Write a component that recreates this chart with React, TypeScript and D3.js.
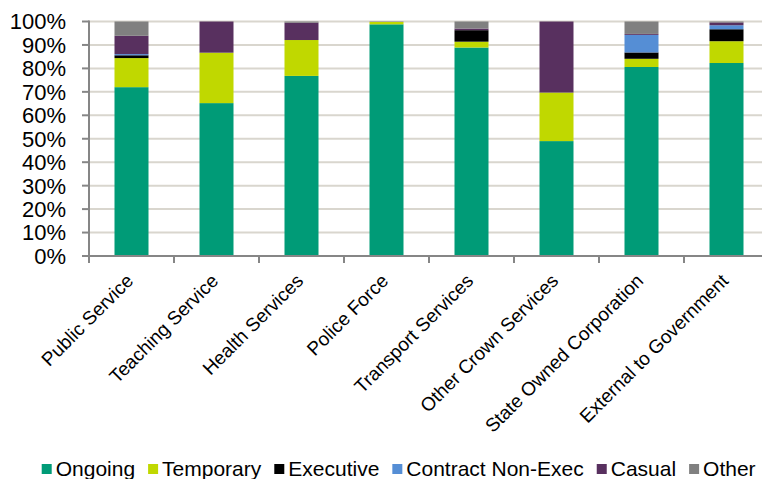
import React, { useMemo } from "react";
import * as d3 from "d3";

const categories = [
  "Public Service",
  "Teaching Service",
  "Health Services",
  "Police Force",
  "Transport Services",
  "Other Crown Services",
  "State Owned Corporation",
  "External to Government",
];
const seriesNames = ["Ongoing", "Temporary", "Executive", "Contract Non-Exec", "Casual", "Other"];
const ongoing = [72.0, 65.2, 76.8, 98.8, 88.9, 49.0, 80.6, 82.3];
const temporary = [12.4, 21.5, 15.3, 1.0, 2.5, 20.7, 3.5, 9.3];
const executive = [1.2, 0, 0, 0, 4.9, 0, 2.7, 5.1];
const contractNonExec = [0.5, 0, 0, 0, 0, 0, 7.5, 1.7];
const casual = [7.8, 13.3, 7.4, 0, 0.7, 30.3, 0.4, 1.2];
const other = [6.1, 0, 0.5, 0.2, 3.0, 0, 5.3, 0.4];
const yTicks = [0, 10, 20, 30, 40, 50, 60, 70, 80, 90, 100];
const colors = ["#009B77", "#C0D800", "#000000", "#558ED5", "#58305F", "#808080"];

const FONT = "Arial, 'Liberation Sans', sans-serif";
const W = 762;
const H = 479;

export default function App() {
  const seriesValues = [ongoing, temporary, executive, contractNonExec, casual, other];
  const table = categories.map((c, i) => {
    const row: any = { cat: c };
    seriesNames.forEach((s, k) => (row[s] = seriesValues[k][i]));
    return row;
  });
  const stacked = d3.stack().keys(seriesNames)(table);

  const left = 89;
  const right = 769;
  const top = 21.5;
  const bottom = 256;

  const x = d3.scaleBand().domain(categories).range([left, right]).paddingInner(0.6).paddingOuter(0.3);
  const y = d3.scaleLinear().domain([0, 100]).range([bottom, top]);
  const step = x.step();

  const legendItems = useMemo(() => {
    const canvas = document.createElement("canvas");
    const ctx = canvas.getContext("2d")!;
    ctx.font = `21px Arial, 'Liberation Sans', sans-serif`;
    let cx = 41.7;
    return seriesNames.map((s, k) => {
      const w = ctx.measureText(s).width;
      const item = { s, color: colors[k], x: cx };
      cx += 14 + w + 13;
      return item;
    });
  }, []);

  return (
    <svg width={W} height={H} style={{ position: "absolute", left: 0, top: 0 }} fontFamily={FONT}>
      <rect x={0} y={0} width={W} height={H} fill="#fff" />
      {yTicks.map((t) => (
        <g key={t}>
          {t > 0 && (
            <line x1={left} x2={W} y1={y(t)} y2={y(t)} stroke="#D9D6CE" strokeWidth={2} />
          )}
          <line x1={left - 7} x2={left} y1={y(t)} y2={y(t)} stroke="#868686" strokeWidth={2} />
          <text x={66} y={y(t)} dy="0.36em" textAnchor="end" fontSize={22} fill="#000">
            {t}%
          </text>
        </g>
      ))}
      {stacked.map((layer, k) => (
        <g key={layer.key} fill={colors[k]}>
          {layer.map((d, i) =>
            d[1] - d[0] > 0 ? (
              <rect
                key={i}
                x={x(categories[i])}
                width={x.bandwidth()}
                y={y(d[1])}
                height={y(d[0]) - y(d[1])}
              />
            ) : null
          )}
        </g>
      ))}
      <line x1={left} x2={left} y1={top - 1} y2={bottom + 1} stroke="#868686" strokeWidth={2} />
      <line x1={left - 7} x2={W} y1={bottom} y2={bottom} stroke="#868686" strokeWidth={2} />
      {d3.range(categories.length + 1).map((i) => (
        <line
          key={i}
          x1={left + i * step}
          x2={left + i * step}
          y1={bottom}
          y2={bottom + 7}
          stroke="#868686"
          strokeWidth={2}
        />
      ))}
      {categories.map((c) => {
        const cx = (x(c) as number) + x.bandwidth() / 2;
        return (
          <text
            key={c}
            transform={`translate(${cx + 3},${282}) rotate(-45)`}
            textAnchor="end"
            fontSize={19}
            fill="#000"
          >
            {c}
          </text>
        );
      })}
      {legendItems.map((it) => (
        <g key={it.s}>
          <rect x={it.x} y={464} width={10} height={10} fill={it.color} />
          <text x={it.x + 14} y={476} fontSize={21} fill="#000">
            {it.s}
          </text>
        </g>
      ))}
    </svg>
  );
}
